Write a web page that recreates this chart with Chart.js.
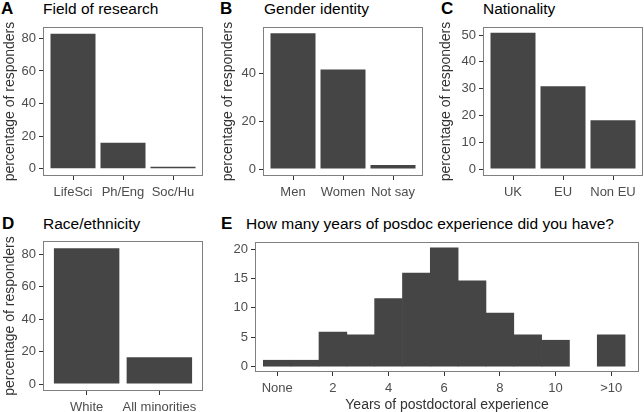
<!DOCTYPE html>
<html>
<head>
<meta charset="utf-8">
<script src="https://cdn.jsdelivr.net/npm/chart.js@4.4.1/dist/chart.umd.min.js"></script>
<style>
  body { margin: 0; background: #fff; width: 644px; height: 412px; position: relative; overflow: hidden;
         font-family: "Liberation Sans", Arial, sans-serif; }
  canvas { position: absolute; }
  .tag { position: absolute; font-weight: bold; font-size: 17px; line-height: 17px; color: #000; }
  .ttl { position: absolute; font-size: 15.5px; line-height: 15px; color: #000; white-space: nowrap; }
</style>
</head>
<body>
<div class="tag" style="left:1px;top:0px">A</div>
<div class="ttl" style="left:43px;top:1px">Field of research</div>
<div class="tag" style="left:220px;top:0px">B</div>
<div class="ttl" style="left:264px;top:1px">Gender identity</div>
<div class="tag" style="left:441px;top:0px">C</div>
<div class="ttl" style="left:483px;top:1px">Nationality</div>
<div class="tag" style="left:2px;top:215px">D</div>
<div class="ttl" style="left:43px;top:216px">Race/ethnicity</div>
<div class="tag" style="left:221px;top:215px">E</div>
<div class="ttl" style="left:246px;top:216px">How many years of posdoc experience did you have?</div>

<canvas id="pA" width="215" height="210" style="left:0;top:0"></canvas>
<canvas id="pB" width="215" height="210" style="left:215px;top:0"></canvas>
<canvas id="pC" width="214" height="210" style="left:430px;top:0"></canvas>
<canvas id="pD" width="215" height="207" style="left:0;top:205px"></canvas>
<canvas id="pE" width="429" height="207" style="left:215px;top:205px"></canvas>

<script>
// survey data (percent of responders)
const fieldCats = ['LifeSci', 'Ph/Eng', 'Soc/Hu'];
const fieldPct = [82.9, 15.9, 1.2];
const fieldTicks = [0, 20, 40, 60, 80];

const genderCats = ['Men', 'Women', 'Not say'];
const genderPct = [56.7, 41.6, 1.7];
const genderTicks = [0, 20, 40];

const natCats = ['UK', 'EU', 'Non EU'];
const natPct = [50.9, 30.9, 18.2];
const natTicks = [0, 10, 20, 30, 40, 50];

const raceCats = ['White', 'All minorities'];
const racePct = [83.5, 16.5];
const raceTicks = [0, 20, 40, 60, 80];

// histogram of postdoc years (0 = none, 12 = more than 10)
const yearBins = [0, 1, 2, 3, 4, 5, 6, 7, 8, 9, 10, 11, 12];
const yearPct = [1.1, 1.1, 5.9, 5.4, 11.6, 15.9, 20.2, 14.6, 9.1, 5.4, 4.5, null, 5.4];
const yearTicks = [0, 2, 4, 6, 8, 10, 12];
const yearTickLabels = ['None', '2', '4', '6', '8', '10', '>10'];
const yearYTicks = [0, 5, 10, 15, 20];

const BAR = '#454545';
const TXT = '#4d4d4d';
const FONT = '"Liberation Sans", Arial, sans-serif';

// grey box round the plotting area
const frame = {
  id: 'frame',
  afterDatasetsDraw(chart) {
    const a = chart.chartArea, c = chart.ctx;
    c.save();
    c.strokeStyle = '#7f7f7f';
    c.lineWidth = 1;
    c.strokeRect(Math.round(a.left) + 0.5, Math.round(a.top) + 0.5,
                 Math.round(a.right - a.left) - 1, Math.round(a.bottom - a.top) - 1);
    c.restore();
  }
};

function panel(id, p) {
  const pts = p.xs.map((x, i) => ({ x: x, y: p.ys[i] }));
  return new Chart(document.getElementById(id), {
    type: 'bar',
    data: { datasets: [{ data: pts, backgroundColor: BAR, borderWidth: 0,
                         categoryPercentage: p.barPct, barPercentage: 1 }] },
    options: {
      responsive: false,
      devicePixelRatio: 1,
      animation: false,
      layout: { padding: { left: 0, top: p.top, right: p.right, bottom: 0 } },
      plugins: { legend: { display: false }, tooltip: { enabled: false } },
      scales: {
        x: {
          type: 'linear', offset: false, min: p.xMin, max: p.xMax,
          afterBuildTicks: s => { s.ticks = p.xTicks.map(v => ({ value: v })); },
          afterFit: s => { s.height = p.xHeight; },
          grid: { display: true, offset: false, drawOnChartArea: false, drawTicks: true, tickLength: 4, color: '#333' },
          border: { display: false },
          ticks: { autoSkip: false, maxRotation: 0, minRotation: 0, padding: 5, color: TXT,
                   font: { family: FONT, size: 13 }, callback: v => p.xLabel(v) },
          title: { display: !!p.xTitle, text: p.xTitle || '', color: '#333', padding: { top: 0, bottom: 0 },
                   font: { family: FONT, size: 14, lineHeight: 1 } }
        },
        y: {
          min: p.yMin, max: p.yMax,
          afterBuildTicks: s => { s.ticks = p.yTicks.map(v => ({ value: v })); },
          afterFit: s => { s.width = p.yWidth; },
          grid: { display: true, drawOnChartArea: false, drawTicks: true, tickLength: 4, color: '#333' },
          border: { display: false },
          ticks: { padding: 3, color: TXT, font: { family: FONT, size: 13 } },
          title: { display: !!p.yTitle, text: p.yTitle || '', color: '#333',
                   padding: { top: p.yTitlePad || 0, bottom: 0 }, font: { family: FONT, size: 14, lineHeight: 1 } }
        }
      }
    },
    plugins: [frame]
  });
}

const idx = a => a.map((_, i) => i);
const YT = 'percentage of responders';

panel('pA', { xs: idx(fieldCats), ys: fieldPct, xTicks: idx(fieldCats), xLabel: v => fieldCats[v],
  xMin: -0.6, xMax: 2.6, yMin: -4.5, yMax: 87, yTicks: fieldTicks, barPct: 0.9,
  top: 27, right: 12, yWidth: 43, xHeight: 34, yTitle: YT, yTitlePad: 3 });

panel('pB', { xs: idx(genderCats), ys: genderPct, xTicks: idx(genderCats), xLabel: v => genderCats[v],
  xMin: -0.6, xMax: 2.6, yMin: -2.9, yMax: 59.3, yTicks: genderTicks, barPct: 0.9,
  top: 27, right: 7, yWidth: 48, xHeight: 34, yTitle: YT, yTitlePad: 6 });

panel('pC', { xs: idx(natCats), ys: natPct, xTicks: idx(natCats), xLabel: v => natCats[v],
  xMin: -0.6, xMax: 2.6, yMin: -2.6, yMax: 53, yTicks: natTicks, barPct: 0.9,
  top: 27, right: 1, yWidth: 53, xHeight: 34, yTitle: YT, yTitlePad: 9.5 });

panel('pD', { xs: idx(raceCats), ys: racePct, xTicks: idx(raceCats), xLabel: v => raceCats[v],
  xMin: -0.6, xMax: 1.6, yMin: -4.3, yMax: 88, yTicks: raceTicks, barPct: 0.9,
  top: 36, right: 12, yWidth: 43, xHeight: 21, yTitle: YT, yTitlePad: 3 });

panel('pE', { xs: yearBins, ys: yearPct, xTicks: yearTicks,
  xLabel: v => yearTickLabels[yearTicks.indexOf(v)],
  xMin: -0.8, xMax: 13.0, yMin: -0.9, yMax: 21.2, yTicks: yearYTicks, barPct: 1,
  top: 37, right: 5, yWidth: 40, xHeight: 40, xTitle: 'Years of postdoctoral experience' });
</script>
</body>
</html>
